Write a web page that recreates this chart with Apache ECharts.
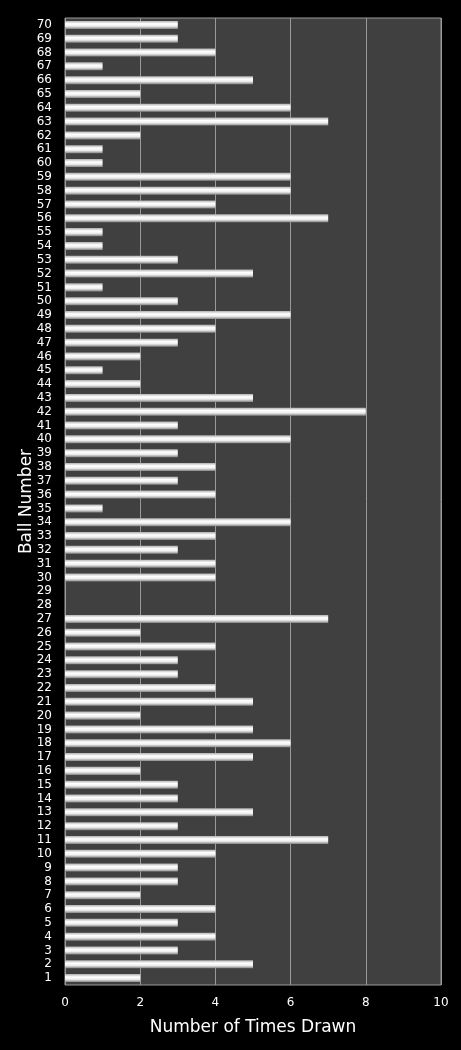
<!DOCTYPE html>
<html>
<head>
<meta charset="utf-8">
<script src="https://cdn.jsdelivr.net/npm/echarts@6/dist/echarts.min.js"></script>
<style>
    html, body { margin: 0; padding: 0; background: #000; }
    #main { width: 461px; height: 1050px; }
</style>
</head>
<body>
<div id="main"></div>
<script type="text/javascript">
    // ball numbers, bottom to top
    var balls = ['1','2','3','4','5','6','7','8','9','10',
        '11','12','13','14','15','16','17','18','19','20',
        '21','22','23','24','25','26','27','28','29','30',
        '31','32','33','34','35','36','37','38','39','40',
        '41','42','43','44','45','46','47','48','49','50',
        '51','52','53','54','55','56','57','58','59','60',
        '61','62','63','64','65','66','67','68','69','70'];
    // times drawn, same order
    var timesDrawn = [2, 5, 3, 4, 3, 4, 2, 3, 3, 4,
        7, 3, 5, 3, 3, 2, 5, 6, 5, 2,
        5, 4, 3, 3, 4, 2, 7, 0, 0, 4,
        4, 3, 4, 6, 1, 4, 3, 4, 3, 6,
        3, 8, 5, 2, 1, 2, 3, 4, 6, 3,
        1, 5, 3, 1, 1, 7, 4, 6, 6, 1,
        1, 2, 7, 6, 2, 5, 1, 4, 3, 3];
    var xTicks = [0, 2, 4, 6, 8, 10];

    var myChart = echarts.init(document.getElementById('main'));

    var font = 'DejaVu Sans';
    option = {
        backgroundColor: '#000',
        animation: false,
        grid: {
            show: true,
            left: 65,
            right: 20,
            top: 18,
            bottom: 65,
            backgroundColor: '#404040',
            borderColor: '#9a9a9a',
            borderWidth: 1
        },
        xAxis: {
            type: 'value',
            min: xTicks[0],
            max: xTicks[xTicks.length - 1],
            interval: 2,
            name: 'Number of Times Drawn',
            nameLocation: 'middle',
            nameGap: 34,
            nameMoveOverlap: false,
            nameTextStyle: { color: '#fff', fontSize: 17, fontFamily: font },
            axisLine: { show: false },
            axisTick: { show: false },
            axisLabel: { color: '#fff', fontSize: 12, fontFamily: font, margin: 12 },
            splitLine: { show: true, lineStyle: { color: '#9a9a9a', width: 1 } }
        },
        yAxis: {
            type: 'category',
            data: balls,
            name: 'Ball Number',
            nameLocation: 'middle',
            nameGap: 30,
            nameMoveOverlap: false,
            nameRotate: 90,
            nameTextStyle: { color: '#fff', fontSize: 17, fontFamily: font },
            axisLine: { show: false },
            axisTick: { show: false },
            axisLabel: { color: '#fff', fontSize: 12, fontFamily: font, interval: 0, margin: 13 },
            splitLine: { show: false }
        },
        series: [{
            type: 'bar',
            data: timesDrawn,
            barWidth: '58%',
            itemStyle: {
                color: new echarts.graphic.LinearGradient(0, 0, 0, 1, [
                    { offset: 0, color: '#b0b0b0' },
                    { offset: 0.35, color: '#ffffff' },
                    { offset: 0.65, color: '#eeeeee' },
                    { offset: 1, color: '#858585' }
                ])
            }
        }]
    };
    myChart.setOption(option);
</script>
</body>
</html>
